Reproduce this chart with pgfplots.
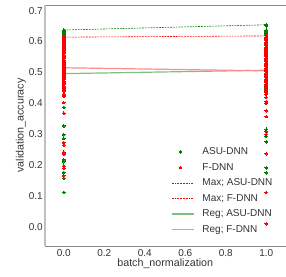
\documentclass[border=0pt]{standalone}
\usepackage{pgfplots}
\pgfplotsset{compat=1.18}
\usepackage{pgfplotstable}
\usepackage{fontspec}
\setmainfont{Liberation Sans}
\definecolor{mgreen}{HTML}{008000}
\definecolor{mred}{HTML}{FF0000}
\definecolor{lgreen}{HTML}{7FBF7F}
\definecolor{lred}{HTML}{FF8C8C}
\definecolor{tickc}{HTML}{333333}
\definecolor{spinec}{HTML}{888888}
\definecolor{spinel}{HTML}{C0C0C0}
\pgfplotsset{shortline/.style={legend image code/.code={\draw[#1] (0pt,0pt) -- (22pt,0pt);}}}

\pgfplotstableread{
x y
0 0.637
0 0.634
0 0.631
0 0.628
0 0.625
0 0.622
0 0.619
0 0.616
0 0.610
0 0.600
0 0.590
0 0.580
0 0.570
0 0.560
0 0.550
0 0.540
0 0.530
0 0.520
0 0.510
0 0.500
0 0.495
0 0.490
0 0.480
0 0.470
0 0.460
0 0.450
0 0.440
0 0.430
0 0.425
0 0.387
0 0.327
0 0.298
0 0.286
0 0.236
0 0.217
0 0.211
0 0.197
0 0.176
0 0.158
0 0.112
1 0.654
1 0.651
1 0.637
1 0.634
1 0.631
1 0.628
1 0.625
1 0.622
1 0.610
1 0.590
1 0.570
1 0.550
1 0.530
1 0.510
1 0.490
1 0.470
1 0.449
1 0.316
1 0.308
1 0.294
1 0.275
1 0.191
1 0.175
}\asudnn

\pgfplotstableread{
x y
0 0.616
0 0.612
0 0.608
0 0.604
0 0.600
0 0.596
0 0.592
0 0.588
0 0.584
0 0.580
0 0.576
0 0.572
0 0.568
0 0.564
0 0.560
0 0.556
0 0.552
0 0.548
0 0.544
0 0.540
0 0.536
0 0.532
0 0.528
0 0.524
0 0.520
0 0.516
0 0.512
0 0.508
0 0.504
0 0.500
0 0.496
0 0.492
0 0.488
0 0.484
0 0.480
0 0.476
0 0.472
0 0.468
0 0.464
0 0.460
0 0.456
0 0.452
0 0.448
0 0.444
0 0.440
0 0.430
0 0.422
0 0.402
0 0.368
0 0.273
0 0.265
0 0.242
0 0.237
0 0.197
0 0.190
0 0.166
1 0.618
1 0.614
1 0.610
1 0.606
1 0.602
1 0.598
1 0.594
1 0.590
1 0.586
1 0.582
1 0.578
1 0.574
1 0.570
1 0.566
1 0.562
1 0.558
1 0.554
1 0.550
1 0.546
1 0.542
1 0.538
1 0.534
1 0.530
1 0.526
1 0.522
1 0.518
1 0.514
1 0.510
1 0.506
1 0.502
1 0.498
1 0.494
1 0.490
1 0.486
1 0.482
1 0.478
1 0.474
1 0.470
1 0.466
1 0.462
1 0.458
1 0.454
1 0.450
1 0.446
1 0.442
1 0.438
1 0.434
1 0.430
1 0.420
1 0.406
1 0.400
1 0.376
1 0.357
1 0.300
1 0.237
1 0.112
1 0.010
}\fdnn

\begin{document}
\begin{tikzpicture}
\path[use as bounding box] (-45pt,-30pt) rectangle (241pt,246pt);
\begin{axis}[
  at={(0,0)}, anchor=south west,
  scale only axis, width=240.5pt, height=241pt,
  xmin=-0.093, xmax=1.095, ymin=-0.0615, ymax=0.718,
  clip=false,
  axis line style={draw=none},
  major tick length=0pt,
  xtick={0,0.2,0.4,0.6,0.8,1},
  ytick={0,0.1,0.2,0.3,0.4,0.5,0.6,0.7},
  /pgf/number format/assume math mode=true,
  /pgf/number format/fixed,
  /pgf/number format/fixed zerofill,
  /pgf/number format/precision=1,
  ticklabel style={font=\fontsize{10}{12}\selectfont, text=tickc},
  xticklabel style={inner sep=3pt},
  yticklabel style={inner sep=2pt},
  xlabel={batch\_normalization},
  ylabel={validation\_accuracy},
  label style={font=\fontsize{10.7}{12}\selectfont, text=tickc},
  xlabel style={at={(axis description cs:0.5,-0.075)}, anchor=center},
  ylabel style={at={(axis description cs:-0.1,0.5)}, anchor=center},
  legend cell align=left,
  legend style={draw=none, fill=none, font=\fontsize{10}{12}\selectfont,
    at={(axis description cs:0.524,0.411)}, anchor=north west,
    row sep=6pt, column sep=8pt, inner sep=0pt,
    nodes={inner sep=0pt, text height=7.5pt, text depth=2pt}},
]
\addplot[only marks, color=mgreen, mark=*, mark size=1.3pt, mark options={draw=mgreen, fill=mgreen, line width=0pt}] table {\asudnn};
\addlegendentry{\textcolor{tickc}{ASU-DNN}}
\addplot[only marks, color=mred, mark=*, mark size=1.3pt, mark options={draw=mred, fill=mred, line width=0pt}] table {\fdnn};
\addlegendentry{\textcolor{tickc}{F-DNN}}
\addplot[color=mgreen, line width=0.6pt, dash pattern=on 1.8pt off 1pt,
  shortline={draw=mgreen, line width=0.6pt, dash pattern=on 1.8pt off 1pt}] coordinates {(0,0.637) (1,0.654)};
\addlegendentry{\textcolor{tickc}{Max; ASU-DNN}}
\addplot[color=mred, line width=0.6pt, dash pattern=on 1.8pt off 1pt,
  shortline={draw=mred, line width=0.6pt, dash pattern=on 1.8pt off 1pt}] coordinates {(0,0.614) (1,0.618)};
\addlegendentry{\textcolor{tickc}{Max; F-DNN}}
\addplot[color=lgreen, line width=1.2pt,
  shortline={draw=lgreen, line width=1.2pt}] coordinates {(0,0.496) (1,0.507)};
\addlegendentry{\textcolor{tickc}{Reg; ASU-DNN}}
\addplot[color=lred, line width=1.2pt,
  shortline={draw=lred, line width=1.2pt}] coordinates {(0,0.515) (1,0.505)};
\addlegendentry{\textcolor{tickc}{Reg; F-DNN}}
\draw[spinec, line width=0.9pt] (rel axis cs:0,1) -- (rel axis cs:1,1);
\draw[spinec, line width=0.9pt] (rel axis cs:0,0) -- (rel axis cs:1,0);
\draw[spinel, line width=1.5pt] (rel axis cs:0,0) -- (rel axis cs:0,1);
\end{axis}
\end{tikzpicture}
\end{document}
